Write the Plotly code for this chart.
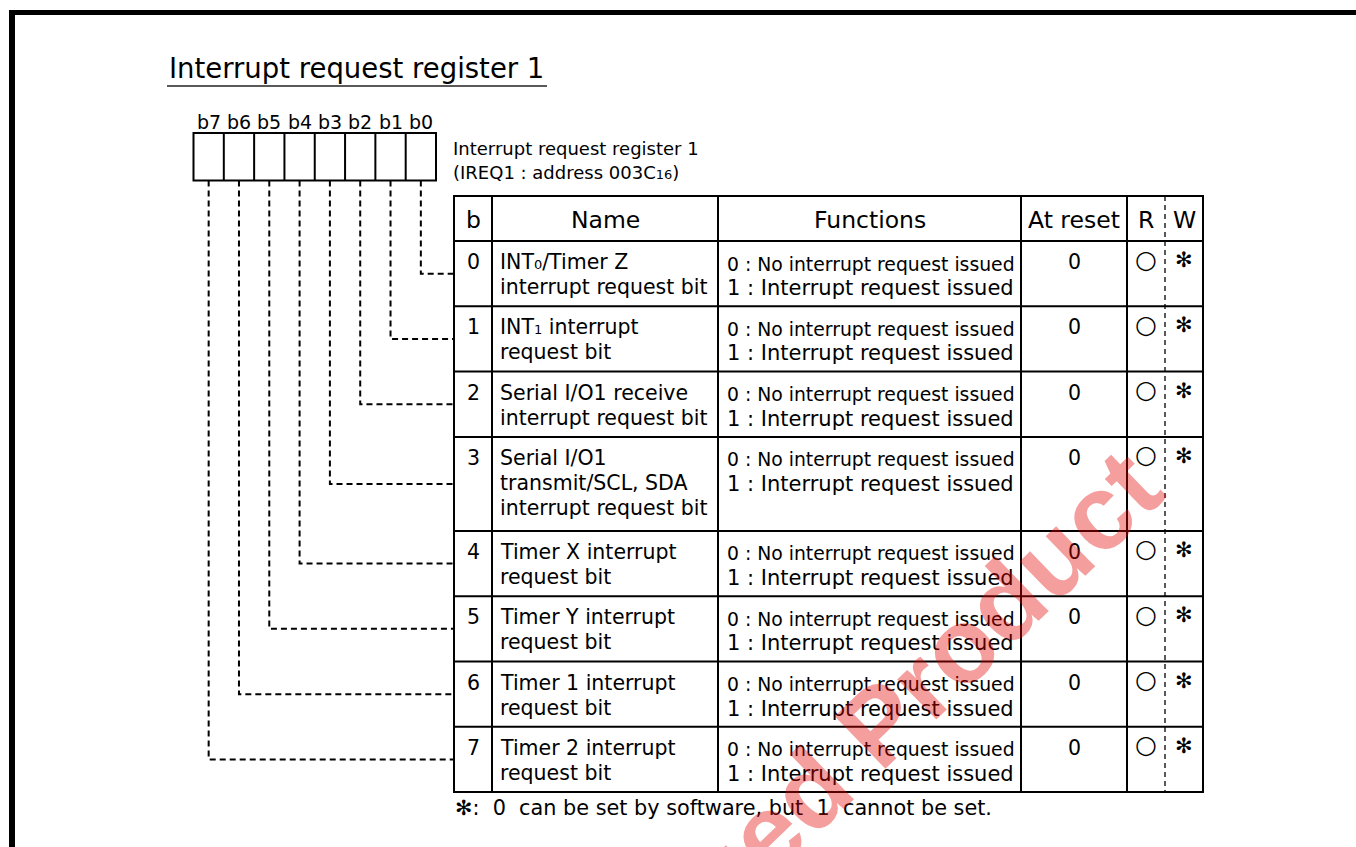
import plotly.graph_objects as go

# ---------------- content ----------------
SMALL = '<span style="font-size:13px">{}</span>'
title_text = "Interrupt request register 1"
bit_labels = ["b7", "b6", "b5", "b4", "b3", "b2", "b1", "b0"]
register_desc = ["Interrupt request register 1", "(IREQ1 : address 003C" + SMALL.format("16") + ")"]
headers = ["b", "Name", "Functions", "At reset", "R", "W"]
bit_numbers = ["0", "1", "2", "3", "4", "5", "6", "7"]
bit_names = [
    ["INT" + SMALL.format("0") + "/Timer Z", "interrupt request bit"],
    ["INT" + SMALL.format("1") + " interrupt", "request bit"],
    ["Serial I/O1 receive", "interrupt request bit"],
    ["Serial I/O1", "transmit/SCL, SDA", "interrupt request bit"],
    ["Timer X interrupt", "request bit"],
    ["Timer Y interrupt", "request bit"],
    ["Timer 1 interrupt", "request bit"],
    ["Timer 2 interrupt", "request bit"],
]
func_when_0 = [
    "0 : No interrupt request issued", "0 : No interrupt request issued",
    "0 : No interrupt request issued", "0 : No interrupt request issued",
    "0 : No interrupt request issued", "0 : No interrupt request issued",
    "0 : No interrupt request issued", "0 : No interrupt request issued",
]
func_when_1 = [
    "1 : Interrupt request issued", "1 : Interrupt request issued",
    "1 : Interrupt request issued", "1 : Interrupt request issued",
    "1 : Interrupt request issued", "1 : Interrupt request issued",
    "1 : Interrupt request issued", "1 : Interrupt request issued",
]
reset_values = ["0", "0", "0", "0", "0", "0", "0", "0"]
read_marks = ["○", "○", "○", "○", "○", "○", "○", "○"]
write_marks = ["✻", "✻", "✻", "✻", "✻", "✻", "✻", "✻"]
footnote = "✻:  0  can be set by software, but  1  cannot be set."
watermark = "Discontinued Product"

# ---------------- layout constants ----------------
W, H = 1356, 847
FONT = "DejaVu Sans"
BOX_X0, BOX_X1, BOX_Y0, BOX_Y1 = 193.5, 436.0, 133.0, 180.5
COL_X = [454, 492, 718, 1021, 1127, 1203]
RW_DIV = 1165
TABLE_TOP, HEADER_BOTTOM = 196, 241
ROW_H_BASE, ROW_H_EXTRA = 65.3, 28.7
LINE_PITCH = 25

shapes = []
annotations = []


def line(x0, y0, x1, y1, width=2.0, dash=None, color="black"):
    ln = dict(color=color, width=width)
    if dash:
        ln["dash"] = dash
    shapes.append(dict(type="line", xref="x", yref="y", x0=x0, y0=y0, x1=x1, y1=y1, line=ln))


def text(x, y, s, size, xanchor="left", yanchor="middle", color="black", family=FONT,
         angle=0, xshift=0, yshift=0):
    annotations.append(dict(x=x, y=y, xref="x", yref="y", text=s, showarrow=False,
                            xanchor=xanchor, yanchor=yanchor, textangle=angle,
                            borderpad=0, xshift=xshift, yshift=yshift,
                            font=dict(family=family, size=size, color=color)))


# frame (top and left thick rules)
shapes.append(dict(type="rect", xref="x", yref="y", x0=9, x1=15, y0=10, y1=H,
                   fillcolor="black", line=dict(width=0)))
shapes.append(dict(type="rect", xref="x", yref="y", x0=9, x1=W, y0=10, y1=15,
                   fillcolor="black", line=dict(width=0)))

# title
text(168, 68, title_text, 27.5)
line(167, 86, 547, 86, width=1.5, color="#222")

# register bit box
cell_w = (BOX_X1 - BOX_X0) / len(bit_labels)
shapes.append(dict(type="rect", xref="x", yref="y", x0=BOX_X0, x1=BOX_X1, y0=BOX_Y0, y1=BOX_Y1,
                   line=dict(color="black", width=2)))
for k, lab in enumerate(bit_labels):
    if k > 0:
        line(BOX_X0 + k * cell_w, BOX_Y0, BOX_X0 + k * cell_w, BOX_Y1)
    text(BOX_X0 + (k + 0.5) * cell_w, 122, lab, 19, xanchor="center")

text(452, 148, register_desc[0], 18)
text(452, 172, register_desc[1], 18)

# table rows
row_tops = []
y = HEADER_BOTTOM
for names in bit_names:
    row_tops.append(y)
    y += ROW_H_BASE + ROW_H_EXTRA * (len(names) - 2)
TABLE_BOTTOM = y

shapes.append(dict(type="rect", xref="x", yref="y", x0=COL_X[0], x1=COL_X[-1],
                   y0=TABLE_TOP, y1=TABLE_BOTTOM, line=dict(color="black", width=2)))
for cx in COL_X[1:-1]:
    line(cx, TABLE_TOP, cx, TABLE_BOTTOM)
line(COL_X[0], HEADER_BOTTOM, COL_X[-1], HEADER_BOTTOM)
for t in row_tops[1:]:
    line(COL_X[0], t, COL_X[-1], t)
line(RW_DIV, TABLE_TOP, RW_DIV, TABLE_BOTTOM, width=1.3, dash="5px,4px")

# header
hy = (TABLE_TOP + HEADER_BOTTOM) / 2 + 1
header_x = [(COL_X[0] + COL_X[1]) / 2, (COL_X[1] + COL_X[2]) / 2, (COL_X[2] + COL_X[3]) / 2,
            (COL_X[3] + COL_X[4]) / 2, (COL_X[4] + RW_DIV) / 2, (RW_DIV + COL_X[5]) / 2]
for hx, h in zip(header_x, headers):
    text(hx, hy, h, 23.5, xanchor="center")

# body
for i in range(len(bit_names)):
    top = row_tops[i]
    y1 = top + 21
    text(header_x[0], y1, bit_numbers[i], 20.5, xanchor="center")
    for j, nm in enumerate(bit_names[i]):
        text(COL_X[1] + 7, y1 + j * LINE_PITCH, nm, 20.5)
    text(COL_X[2] + 8, top + 23, func_when_0[i], 18.8)
    text(COL_X[2] + 8, top + 47, func_when_1[i], 21)
    text(header_x[3], y1, reset_values[i], 20.5, xanchor="center")
    text(header_x[4], y1 - 3, read_marks[i], 25, xanchor="center")
    text(header_x[5], y1 - 2, write_marks[i], 21, xanchor="center")

    # dashed connector from bit cell to the row
    bottom = row_tops[i + 1] if i + 1 < len(row_tops) else TABLE_BOTTOM
    mid = (top + bottom) / 2
    bx = BOX_X0 + (len(bit_labels) - 1 - i + 0.5) * cell_w
    shapes.append(dict(type="path", xref="x", yref="y",
                       path=f"M {bx},{BOX_Y1} V {mid} H {COL_X[0]}",
                       line=dict(color="black", width=2, dash="6px,4px")))

# footnote
text(454, TABLE_BOTTOM + 16, footnote, 20.8)

# watermark (anchored inside the plot, pushed down past the lower edge)
text(746, 822, f"<b>{watermark}</b>", 106, xanchor="center",
     color="rgba(225,0,0,0.38)", family="Liberation Sans", angle=-44, yshift=-30)

fig = go.Figure()
fig.update_layout(
    width=W, height=H,
    margin=dict(l=0, r=0, t=0, b=0, pad=0),
    paper_bgcolor="white", plot_bgcolor="white",
    xaxis=dict(range=[0, W], visible=False, fixedrange=True),
    yaxis=dict(range=[H, 0], visible=False, fixedrange=True),
    shapes=shapes, annotations=annotations, showlegend=False,
)
fig.write_html("out.html", config={"displayModeBar": False},
               post_script="document.body.style.margin='0';document.body.style.padding='0';")
